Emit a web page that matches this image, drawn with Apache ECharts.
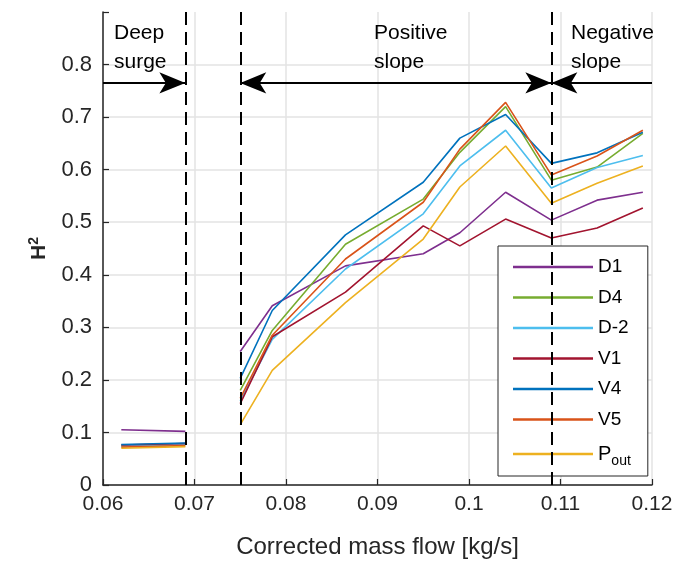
<!DOCTYPE html>
<html>
<head>
<meta charset="utf-8">
<script src="https://cdn.jsdelivr.net/npm/echarts@6/dist/echarts.min.js"></script>
<style>
html, body { margin: 0; padding: 0; background: #fff; }
#chart { width: 688px; height: 564px; }
</style>
</head>
<body>
<div id="chart"></div>
<script>
// operating points
const surgeX = [0.062, 0.069];
const slopeX = [0.075, 0.0785, 0.0865, 0.095, 0.099, 0.104, 0.109, 0.114, 0.119];

// H^2 values, deep surge part and regular part
const surgeD1 = [0.105, 0.102];
const surgeD4 = [0.075, 0.078];
const surgeD2 = [0.074, 0.077];
const surgeV1 = [0.076, 0.079];
const surgeV4 = [0.077, 0.080];
const surgeV5 = [0.072, 0.075];
const surgePout = [0.070, 0.073];

const slopeD1 = [0.254, 0.341, 0.417, 0.440, 0.480, 0.557, 0.504, 0.542, 0.557];
const slopeD4 = [0.180, 0.294, 0.458, 0.544, 0.633, 0.720, 0.580, 0.605, 0.669];
const slopeD2 = [0.160, 0.277, 0.411, 0.516, 0.607, 0.675, 0.565, 0.604, 0.627];
const slopeV1 = [0.155, 0.282, 0.367, 0.493, 0.455, 0.506, 0.470, 0.489, 0.527];
const slopeV4 = [0.203, 0.332, 0.476, 0.576, 0.660, 0.705, 0.612, 0.632, 0.671];
const slopeV5 = [0.165, 0.285, 0.430, 0.538, 0.639, 0.728, 0.590, 0.626, 0.675];
const slopePout = [0.115, 0.218, 0.347, 0.468, 0.567, 0.645, 0.536, 0.574, 0.607];

const names = ['D1', 'D4', 'D-2', 'V1', 'V4', 'V5', 'Pout'];
const colors = ['#7E2F8E', '#77AC30', '#4DBEEE', '#A2142F', '#0072BD', '#D95319', '#EDB120'];
const surgeValues = [surgeD1, surgeD4, surgeD2, surgeV1, surgeV4, surgeV5, surgePout];
const slopeValues = [slopeD1, slopeD4, slopeD2, slopeV1, slopeV4, slopeV5, slopePout];

// region borders and arrows
const borderX = [0.069, 0.075, 0.109];
const arrowY = 0.765;
const xTicks = [0.06, 0.12];
const yTicks = [0, 0.9];

const font = 'Liberation Sans, Arial, Helvetica, sans-serif';
const textColor = '#262626';

const myEcharts = echarts.init(document.getElementById('chart'));

const dataSeries = names.map((name, i) => {
    const pts = surgeX.map((x, j) => [x, surgeValues[i][j]]);
    pts.push([0.072, null]); // break between the two regions
    slopeX.forEach((x, j) => pts.push([x, slopeValues[i][j]]));
    return {
        name: name,
        type: 'line',
        data: pts,
        symbol: 'none',
        showSymbol: false,
        connectNulls: false,
        color: colors[i],
        lineStyle: { width: 1.6, color: colors[i] },
        emphasis: { disabled: true },
        z: 3
    };
});

// dashed borders
const borderLines = borderX.map(x => [
    { coord: [x, yTicks[0]] },
    { coord: [x, yTicks[1]] }
]);

// arrows
const arrowLines = [
    [{ coord: [xTicks[0], arrowY], symbol: 'none' }, { coord: [borderX[0], arrowY], symbol: 'arrow' }],
    [{ coord: [borderX[1], arrowY], symbol: 'arrow' }, { coord: [borderX[2], arrowY], symbol: 'arrow' }],
    [{ coord: [xTicks[1], arrowY], symbol: 'none' }, { coord: [borderX[2], arrowY], symbol: 'arrow' }]
];

const option = {
    animation: false,
    backgroundColor: '#fff',
    grid: {
        left: 103,
        right: 36,
        top: 12,
        bottom: 77,
        containLabel: false
    },
    legend: {
        data: names.map(n => ({ name: n, icon: 'rect' })),
        orient: 'vertical',
        left: 498,
        top: 246,
        itemWidth: 80,
        itemHeight: 2.5,
        itemGap: 10.5,
        padding: [11, 17, 8, 15],
        backgroundColor: '#fff',
        borderColor: '#262626',
        borderWidth: 1,
        borderRadius: 0,
        selectedMode: false,
        formatter: name => name === 'Pout' ? '{p|P}{sub|out}' : name,
        textStyle: {
            fontFamily: font,
            fontSize: 19,
            lineHeight: 20,
            color: '#000',
            rich: {
                p: { fontFamily: font, fontSize: 20, lineHeight: 20, color: '#000' },
                sub: { fontFamily: font, fontSize: 14, lineHeight: 16, padding: [14, 0, 0, 0], color: '#000' }
            }
        }
    },
    xAxis: {
        type: 'value',
        min: xTicks[0],
        max: xTicks[1],
        interval: 0.01,
        name: 'Corrected mass flow [kg/s]',
        nameLocation: 'middle',
        nameGap: 50,
        nameTextStyle: { fontFamily: font, fontSize: 24, color: textColor },
        axisLine: { show: true, onZero: false, lineStyle: { color: '#262626', width: 1.5 } },
        axisTick: { show: true, inside: true, length: 6, lineStyle: { color: '#262626', width: 1.2 } },
        axisLabel: {
            fontFamily: font,
            fontSize: 21,
            color: textColor,
            margin: 9,
            formatter: v => String(+v.toFixed(2))
        },
        splitLine: { show: true, lineStyle: { color: '#e3e3e3', width: 1.5 } }
    },
    yAxis: {
        type: 'value',
        min: yTicks[0],
        max: yTicks[1],
        interval: 0.1,
        name: '{h|H}{sup|2}',
        nameLocation: 'middle',
        nameGap: 52,
        nameRotate: 90,
        nameTextStyle: {
            rich: {
                h: { fontFamily: font, fontSize: 21, fontWeight: 'bold', color: textColor },
                sup: { fontFamily: font, fontSize: 14, fontWeight: 'bold', color: textColor, padding: [0, 0, 10, 0] }
            }
        },
        axisLine: { show: true, lineStyle: { color: '#262626', width: 1.5 } },
        axisTick: { show: true, inside: true, length: 6, lineStyle: { color: '#262626', width: 1.2 } },
        axisLabel: {
            fontFamily: font,
            fontSize: 22,
            color: textColor,
            margin: 11,
            formatter: v => v > 0.85 ? '' : String(+v.toFixed(1))
        },
        splitLine: {
            show: true,
            lineStyle: {
                color: ['#e3e3e3', '#e3e3e3', '#e3e3e3', '#e3e3e3', '#e3e3e3', '#e3e3e3', '#e3e3e3', '#e3e3e3', '#e3e3e3', 'rgba(0,0,0,0)'],
                width: 1.5
            }
        }
    },
    series: dataSeries.concat([
        {
            name: 'borders',
            type: 'line',
            data: [],
            silent: true,
            z: 4,
            markLine: {
                silent: true,
                symbol: 'none',
                label: { show: false },
                lineStyle: { color: '#000', width: 2, type: [13, 7] },
                emphasis: { disabled: true },
                data: borderLines
            }
        },
        {
            name: 'arrows',
            type: 'line',
            data: [],
            silent: true,
            z: 5,
            markLine: {
                silent: true,
                symbolSize: [16, 26],
                label: { show: false },
                lineStyle: { color: '#000', width: 2, type: 'solid' },
                emphasis: { disabled: true },
                data: arrowLines
            }
        }
    ]),
    graphic: [
        {
            type: 'text', left: 114, top: 19, z: 10,
            style: { text: 'Deep\nsurge', font: '21px ' + font, fill: '#000', lineHeight: 29 }
        },
        {
            type: 'text', left: 374, top: 19, z: 10,
            style: { text: 'Positive\nslope', font: '21px ' + font, fill: '#000', lineHeight: 29 }
        },
        {
            type: 'text', left: 571, top: 19, z: 10,
            style: { text: 'Negative\nslope', font: '21px ' + font, fill: '#000', lineHeight: 29 }
        }
    ]
};

myEcharts.setOption(option);
</script>
</body>
</html>
